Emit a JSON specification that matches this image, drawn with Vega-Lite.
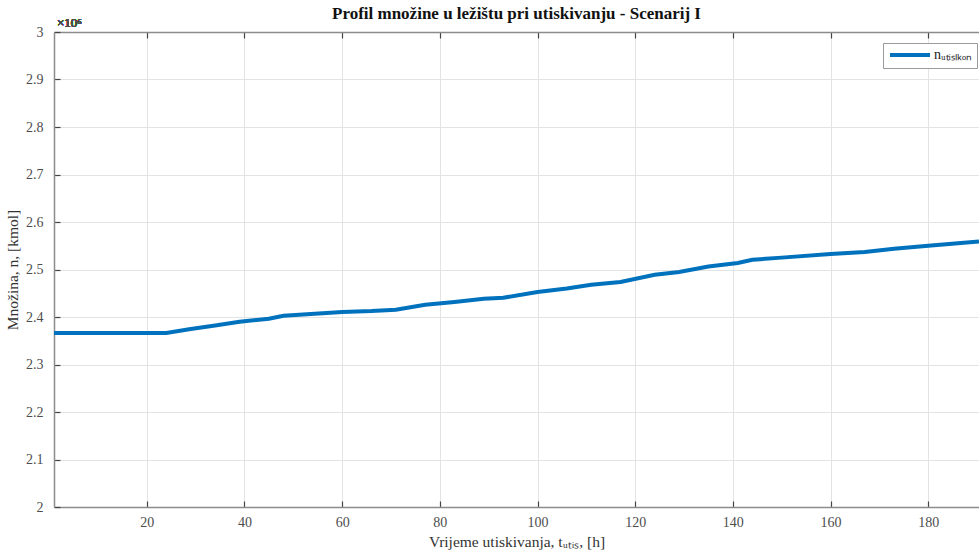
{
  "$schema": "https://vega.github.io/schema/vega-lite/v6.json",
  "width": 925,
  "height": 475,
  "autosize": {"type": "none"},
  "padding": {"left": 54, "top": 32, "right": 0, "bottom": 49},
  "background": "white",
  "config": {
    "font": "Liberation Serif",
    "view": {"stroke": null},
    "axis": {
      "labelFont": "Liberation Serif",
      "titleFont": "Liberation Serif",
      "labelFontSize": 14,
      "titleFontSize": 15.5,
      "labelColor": "#4d4d4d",
      "titleColor": "#333333",
      "titleFontWeight": "normal",
      "domainColor": "#8c8c8c",
      "domainWidth": 1.5,
      "tickColor": "#444444",
      "tickWidth": 1.2,
      "gridColor": "#e3e3e3",
      "gridWidth": 1
    }
  },
  "title": {
    "text": "Profil množine u ležištu pri utiskivanju - Scenarij I",
    "font": "Liberation Serif",
    "fontSize": 17,
    "fontWeight": "bold",
    "color": "#111111",
    "anchor": "middle",
    "offset": -6
  },
  "data": {
    "values": [
      {"t": 1, "n": 2366300},
      {"t": 24, "n": 2366300},
      {"t": 29, "n": 2374700},
      {"t": 34, "n": 2382000},
      {"t": 39, "n": 2390100},
      {"t": 45, "n": 2396400},
      {"t": 48, "n": 2402700},
      {"t": 52, "n": 2405500},
      {"t": 60, "n": 2410500},
      {"t": 66, "n": 2412500},
      {"t": 71, "n": 2415400},
      {"t": 77, "n": 2425900},
      {"t": 83, "n": 2431600},
      {"t": 89, "n": 2438500},
      {"t": 93, "n": 2440600},
      {"t": 100, "n": 2452600},
      {"t": 106, "n": 2460000},
      {"t": 111, "n": 2468000},
      {"t": 117, "n": 2473700},
      {"t": 124, "n": 2489000},
      {"t": 129, "n": 2494700},
      {"t": 135, "n": 2506500},
      {"t": 141, "n": 2513700},
      {"t": 144, "n": 2520600},
      {"t": 150, "n": 2525000},
      {"t": 160, "n": 2532600},
      {"t": 167, "n": 2536800},
      {"t": 173, "n": 2543800},
      {"t": 180, "n": 2550100},
      {"t": 190.4, "n": 2559200}
    ]
  },
  "layer": [
    {
      "mark": {"type": "line", "strokeWidth": 4, "clip": true},
      "encoding": {
        "x": {
          "field": "t",
          "type": "quantitative",
          "scale": {"domain": [1, 190.4], "nice": false, "zero": false},
          "axis": {
            "orient": "bottom",
            "values": [20, 40, 60, 80, 100, 120, 140, 160, 180],
            "title": "Vrijeme utiskivanja, tᵤₜᵢₛ, [h]",
            "tickSize": -6,
            "labelPadding": 14,
            "titlePadding": 5,
            "grid": true
          }
        },
        "y": {
          "field": "n",
          "type": "quantitative",
          "scale": {"domain": [2000000, 3000000], "nice": false, "zero": false},
          "axis": {
            "values": [2000000, 2100000, 2200000, 2300000, 2400000, 2500000, 2600000, 2700000, 2800000, 2900000, 3000000],
            "labelExpr": "replace(format(datum.value/1000000, '.1f'), '.0', '')",
            "title": "Množina, n, [kmol]",
            "tickSize": -6,
            "labelPadding": 17,
            "titlePadding": 5,
            "grid": true
          }
        },
        "color": {
          "datum": "nᵤₜᵢₛₗₖₒₙ",
          "type": "nominal",
          "scale": {"range": ["#0072BD"]},
          "legend": {
            "title": null,
            "orient": "none",
            "legendX": 829,
            "legendY": 11,
            "symbolType": "M-4,0H4",
            "symbolSize": 100,
            "symbolStrokeWidth": 4,
            "symbolOffset": 15,
            "labelFont": "Liberation Serif",
            "labelFontSize": 14,
            "labelColor": "#222222",
            "labelOffset": 17,
            "strokeColor": "#9a9a9a",
            "fillColor": "white",
            "padding": 5
          }
        }
      }
    },
    {
      "mark": {"type": "text", "align": "left", "baseline": "bottom", "dx": 3, "dy": -2, "fontSize": 13, "font": "Liberation Serif", "color": "#4d4d4d"},
      "encoding": {
        "x": {
          "datum": 1,
          "type": "quantitative",
          "axis": {
            "orient": "top",
            "values": [20, 40, 60, 80, 100, 120, 140, 160, 180],
            "labels": false,
            "title": null,
            "tickSize": -6,
            "grid": false
          }
        },
        "y": {"datum": 3000000, "type": "quantitative"},
        "text": {"value": "×10⁶"}
      }
    }
  ],
  "resolve": {"axis": {"x": "independent"}}
}
